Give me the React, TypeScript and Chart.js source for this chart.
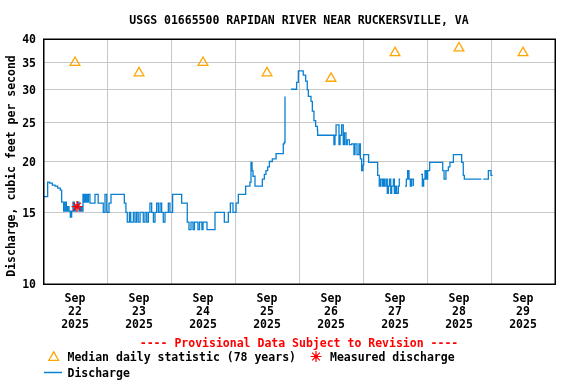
import { useEffect, useRef } from 'react';
import { Chart, registerables } from 'chart.js';

Chart.register(...registerables);

const TITLE = 'USGS 01665500 RAPIDAN RIVER NEAR RUCKERSVILLE, VA';
const Y_TITLE = 'Discharge, cubic feet per second';
const PROVISIONAL = '---- Provisional Data Subject to Revision ----';
const LEGEND_MEDIAN = 'Median daily statistic (78 years)';
const LEGEND_MEASURED = 'Measured discharge';
const LEGEND_DISCHARGE = 'Discharge';

const MONTH = 'Sep';
const YEAR = '2025';
const DAY_LABELS = ['22', '23', '24', '25', '26', '27', '28', '29'];
const Y_TICKS = [10, 15, 20, 25, 30, 35, 40];

// hours since Sep 22 2025 00:00
const MEDIAN_HOURS = [12, 36, 60, 84, 108, 132, 156, 180];
const MEDIAN_VALUES = [35, 33, 35, 33, 32, 37, 38, 37];

const MEASURED_HOURS = [12.75];
const MEASURED_VALUES = [15.5];

const DISCHARGE_HOURS = [
  0, 1.75, 2.5, 3.5, 4.5, 5.5, 6.5, 7, 7.75, 8.25, 8.75, 9.25, 9.75, 10.25, 10.75, 11.25, 11.75, 12.25, 13, 13.5, 14, 14.5,
  15, 15.5, 16, 16.5, 17, 17.6, 19.5, 20.7, 22.6, 23.25, 23.9, 24.75, 25.5, 30.5,
  31.1, 31.6, 32.4, 32.9, 33.9, 34.5, 35.1, 35.7, 36.4, 37.6, 38.25, 38.9, 39.5, 40.1, 40.75, 41.4, 42, 42.6, 43.25, 43.9,
  44.5, 45.1, 45.75, 47, 47.6, 48.6, 52, 54.1, 54.75, 55.5, 56.25, 56.8, 58.1, 58.7, 59.6, 60, 61.5, 64.5, 68, 69.5,
  70.25, 71.25, 72.4, 73.25, 76, 77.6, 78, 78.4, 78.75, 79.5, 82.25, 83, 83.6, 84.25, 84.9, 86, 87.4, 90.1, 90.5, 90.75,
  91,
  93, 95.1, 95.75, 97.6, 98.5, 99.1, 99.5, 100.5, 101, 101.6, 102.25, 102.9, 103, 109.1, 109.5, 109.9, 111, 111.4, 112,
  112.6, 113, 113.6, 114.1, 114.9, 115.75, 116.6, 117, 117.75, 118.5, 119, 119.5, 120, 120.25, 122.1, 125.5, 126.1,
  126.6, 127.25, 127.6, 128, 128.6, 129.1, 129.5, 129.9, 130.4, 130.75, 131.4, 131.75, 132.25, 132.6, 133.25, 133.6, 133.9,
  134,
  135.75, 136.25, 136.75, 137.25, 137.75, 138.25, 138.9,
  139,
  141.75, 142.25, 142.75, 143.25, 143.75, 144.25, 145, 149.9, 150.4, 151.1, 152, 152.6, 153.9, 157, 157.6, 158, 164.4,
  164.5,
  165.1, 167, 168, 168.6,
];
const DISCHARGE_VALUES = [
  16.4, 17.8, 17.7, 17.5, 17.4, 17.2, 17.0, 15.9, 15.1, 15.9, 15.1, 15.5, 15.1, 14.6, 15.1, 15.9, 15.1, 15.5, 15.9, 15.1, 15.5, 15.1,
  16.6, 15.9, 16.6, 15.9, 16.6, 15.8, 16.6, 15.8, 15.0, 16.6, 15.0, 15.8, 16.6, 15.8,
  15.0, 14.2, 15.0, 14.2, 15.0, 14.2, 15.0, 14.2, 15.0, 14.2, 15.0, 14.2, 15.0, 15.8, 15.0, 14.2, 15.0, 15.8, 15.0, 15.8,
  15.0, 14.2, 15.0, 15.8, 15.0, 16.6, 15.8, 14.2, 13.6, 14.2, 13.6, 14.2, 13.6, 14.2, 13.6, 14.2, 13.6, 15.0, 14.2, 15.0,
  15.8, 15.0, 15.8, 16.6, 17.4, 17.8, 19.9, 19.0, 18.4, 17.4, 18.1, 18.6, 19.0, 19.4, 20.0, 20.3, 20.9, 22.1, 22.3, 28.9,
  null,
  30.1, 31.3, 33.4, 32.6, 31.5, 30.0, 28.9, 28.1, 26.6, 25.2, 24.4, 23.9, 23.2, 22.0, 23.2, 24.6, 22.0, 23.2, 24.6,
  22.0, 23.5, 22.0, 22.6, 22.0, 22.1, 20.8, 22.1, 20.8, 22.1, 20.3, 19.0, 19.6, 20.8, 19.9, 18.5, 17.4,
  18.1, 17.4, 18.1, 17.4, 18.1, 16.7, 17.4, 18.1, 16.7, 17.4, 18.1, 16.7, 17.4, 16.7, 17.4, 18.1, 18.1,
  null,
  17.4, 18.1, 19.0, 18.1, 17.4, 18.1, 17.4,
  null,
  18.6, 17.4, 18.1, 19.0, 18.1, 19.0, 19.9, 19.0, 18.1, 19.0, 19.4, 19.9, 20.8, 19.9, 18.5, 18.1, 18.1,
  null,
  18.1, 19.0, 18.5, 18.5,
];

const FONT = '"DejaVu Sans Mono", "Liberation Mono", monospace';
const GRID = '#c8c8c8';
const BLUE = '#0a80d2';
const ORANGE = '#ffa500';
const RED = '#ff0000';

function drawTriangle(ctx: CanvasRenderingContext2D, x: number, y: number, r: number) {
  ctx.beginPath();
  ctx.moveTo(x, y - r);
  ctx.lineTo(x + r * 0.866, y + r / 2);
  ctx.lineTo(x - r * 0.866, y + r / 2);
  ctx.closePath();
  ctx.stroke();
}

function drawStar(ctx: CanvasRenderingContext2D, x: number, y: number, r: number) {
  ctx.beginPath();
  for (let i = 0; i < 4; i++) {
    const a = (i * Math.PI) / 4;
    ctx.moveTo(x + Math.cos(a) * r, y + Math.sin(a) * r);
    ctx.lineTo(x - Math.cos(a) * r, y - Math.sin(a) * r);
  }
  ctx.stroke();
  ctx.beginPath();
  ctx.arc(x, y, 2, 0, Math.PI * 2);
  ctx.fill();
}

const decorPlugin = {
  id: 'decor',
  afterDraw(chart: any) {
    const ctx: CanvasRenderingContext2D = chart.ctx;
    const a = chart.chartArea;
    const cx = (a.left + a.right) / 2;
    ctx.save();
    // plot border
    ctx.strokeStyle = '#000';
    ctx.lineWidth = 1.5;
    ctx.strokeRect(a.left + 0.75, a.top + 0.25, a.right - a.left - 0.5, a.bottom - a.top);
    ctx.font = `bold 11.5px ${FONT}`;
    ctx.textBaseline = 'middle';
    ctx.fillStyle = '#000';
    ctx.textAlign = 'center';
    ctx.fillText(TITLE, cx, 21);
    ctx.fillStyle = RED;
    ctx.fillText(PROVISIONAL, cx, 344);
    // y title
    ctx.save();
    ctx.translate(12, 166);
    ctx.rotate(-Math.PI / 2);
    ctx.fillStyle = '#000';
    ctx.fillText(Y_TITLE, 0, 0);
    ctx.restore();
    // legend
    ctx.textAlign = 'left';
    ctx.fillStyle = '#000';
    ctx.fillText(LEGEND_MEDIAN, 67.5, 358);
    ctx.fillText(LEGEND_MEASURED, 330, 358);
    ctx.fillText(LEGEND_DISCHARGE, 67.5, 374);
    ctx.strokeStyle = ORANGE;
    ctx.lineWidth = 1.3;
    drawTriangle(ctx, 53.7, 357.5, 5.6);
    ctx.strokeStyle = RED;
    ctx.fillStyle = RED;
    ctx.lineWidth = 1.2;
    drawStar(ctx, 316, 356.5, 5.5);
    ctx.strokeStyle = BLUE;
    ctx.lineWidth = 1.5;
    ctx.beginPath();
    ctx.moveTo(44, 372.5);
    ctx.lineTo(62, 372.5);
    ctx.stroke();
    ctx.restore();
  },
};

export default function App() {
  const ref = useRef<HTMLCanvasElement | null>(null);
  useEffect(() => {
    const canvas = ref.current;
    if (!canvas) return;
    const chart = new Chart(canvas, {
      type: 'line',
      data: {
        datasets: [
          {
            label: 'MeasuredCore',
            data: MEASURED_HOURS.map((h, i) => ({ x: h, y: MEASURED_VALUES[i] })),
            showLine: false,
            pointStyle: 'circle',
            pointRadius: 2,
            pointBorderWidth: 0,
            borderColor: RED,
            backgroundColor: RED,
          },
          {
            label: 'Measured',
            data: MEASURED_HOURS.map((h, i) => ({ x: h, y: MEASURED_VALUES[i] })),
            showLine: false,
            pointStyle: 'star',
            pointRadius: 5.5,
            pointBorderWidth: 1.3,
            borderColor: RED,
            backgroundColor: RED,
          },
          {
            label: 'Median',
            data: MEDIAN_HOURS.map((h, i) => ({ x: h, y: MEDIAN_VALUES[i] })),
            showLine: false,
            pointStyle: 'triangle',
            pointRadius: 5.6,
            pointBorderWidth: 1.3,
            borderColor: ORANGE,
            backgroundColor: 'rgba(0,0,0,0)',
            pointBackgroundColor: 'rgba(0,0,0,0)',
          },
          {
            label: 'Discharge',
            data: DISCHARGE_HOURS.map((h, i) => ({ x: h, y: DISCHARGE_VALUES[i] })),
            borderColor: BLUE,
            borderWidth: 1.3,
            pointRadius: 0,
            stepped: true,
            spanGaps: false,
            fill: false,
          },
        ],
      } as any,
      options: {
        animation: false,
        responsive: false,
        maintainAspectRatio: false,
        devicePixelRatio: 1,
        layout: { padding: { left: 0, top: 39, right: 21, bottom: 0 } },
        plugins: {
          legend: { display: false },
          title: { display: false },
          tooltip: { enabled: false },
        },
        scales: {
          x: {
            type: 'linear',
            min: 0,
            max: 192,
            afterBuildTicks: (s: any) => {
              s.ticks = Array.from({ length: 17 }, (_, i) => ({ value: i * 12 }));
            },
            afterFit: (s: any) => {
              s.height = 100;
            },
            border: { display: false },
            grid: {
              drawTicks: false,
              lineWidth: 1,
              color: (c: any) => {
                const v = c.tick ? c.tick.value : 0;
                return v % 24 === 0 && v > 0 && v < 192 ? GRID : 'rgba(0,0,0,0)';
              },
            },
            ticks: {
              autoSkip: false,
              maxRotation: 0,
              minRotation: 0,
              padding: 9,
              color: '#000',
              font: { family: FONT, size: 11.5, weight: 'bold', lineHeight: '13px' },
              callback: (v: any) => {
                const n = Number(v);
                if (n % 24 === 12) {
                  return [MONTH, DAY_LABELS[(n - 12) / 24], YEAR];
                }
                return '';
              },
            },
          },
          y: {
            type: 'logarithmic',
            min: 10,
            max: 40,
            afterBuildTicks: (s: any) => {
              s.ticks = Y_TICKS.map((v) => ({ value: v }));
            },
            afterFit: (s: any) => {
              s.width = 43;
            },
            border: { display: false },
            grid: {
              drawTicks: false,
              lineWidth: 1,
              color: (c: any) => {
                const v = c.tick ? c.tick.value : 0;
                return v > 10 && v < 40 ? GRID : 'rgba(0,0,0,0)';
              },
            },
            ticks: {
              autoSkip: false,
              padding: 7,
              labelOffset: 1.5,
              color: '#000',
              font: { family: FONT, size: 11.5, weight: 'bold' },
              callback: (v: any) => String(v),
            },
          },
        },
      } as any,
      plugins: [decorPlugin],
    });
    return () => chart.destroy();
  }, []);
  return (
    <div style={{ position: 'fixed', left: 0, top: 0, width: 576, height: 384, background: '#fff' }}>
      <canvas ref={ref} width={576} height={384} style={{ width: 576, height: 384, display: 'block' }} />
    </div>
  );
}
